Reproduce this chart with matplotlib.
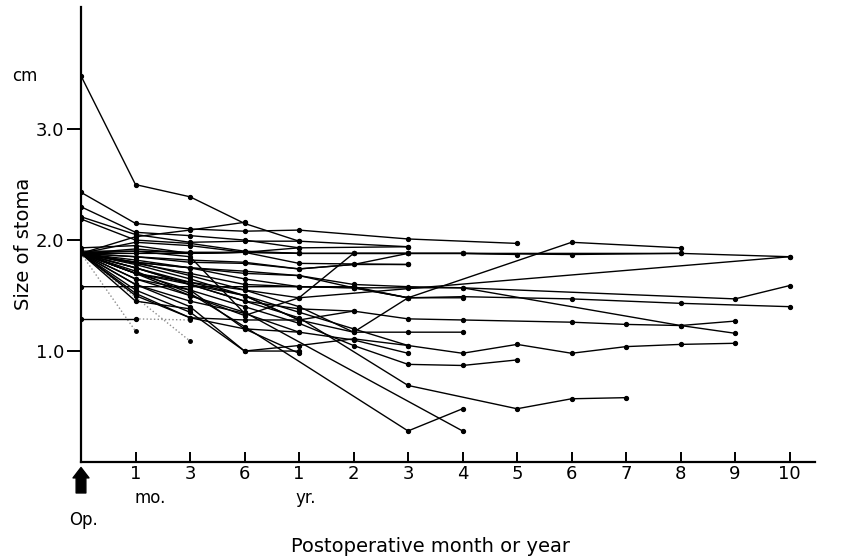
import matplotlib
matplotlib.use('Agg')
import matplotlib.pyplot as plt
import numpy as np

# visit index: 0 = Op., 1-3 = 1/3/6 mo, 4-13 = 1..10 yr
tick_pos = [1, 2, 3, 4, 5, 6, 7, 8, 9, 10, 11, 12, 13]
tick_lab = ['1', '3', '6', '1', '2', '3', '4', '5', '6', '7', '8', '9', '10']

# each patient: (visit indices, stoma size in cm)
patients = [
    ([0, 1, 2, 3, 4], [3.48, 2.50, 2.39, 2.15, 1.99]),
    ([0, 1, 2, 3, 4, 6, 8], [2.43, 2.15, 2.10, 2.08, 2.09, 2.01, 1.97]),
    ([0, 1, 2, 3, 4], [2.30, 2.07, 2.04, 2.00, 1.93]),
    ([0, 1, 2, 3, 4, 6], [2.21, 2.05, 1.98, 1.99, 1.99, 1.94]),
    ([0, 1, 2, 3], [1.88, 2.03, 2.09, 2.16]),
    ([0, 1, 2, 3, 4, 5, 6, 7, 9, 11, 13], [1.88, 1.88, 1.88, 1.89, 1.88, 1.88, 1.88, 1.88, 1.87, 1.88, 1.85]),
    ([0, 1, 2, 3, 4, 5, 6, 7, 8], [1.90, 1.90, 1.89, 1.89, 1.88, 1.88, 1.88, 1.88, 1.87]),
    ([0, 1, 2, 3, 4, 6], [1.88, 1.92, 1.88, 1.89, 1.79, 1.78]),
    ([0, 1, 2, 3, 4, 5, 6], [1.88, 1.85, 1.82, 1.80, 1.74, 1.78, 1.88]),
    ([0, 1, 2, 3, 4, 5, 6, 7, 12, 13], [1.58, 1.58, 1.58, 1.58, 1.58, 1.57, 1.57, 1.57, 1.47, 1.59]),
    ([0, 1], [1.29, 1.29]),
    ([0, 2, 3, 4, 5, 6, 7, 9, 11, 13], [1.88, 1.70, 1.60, 1.58, 1.57, 1.48, 1.49, 1.47, 1.43, 1.40]),
    ([0, 1, 2, 3, 4, 5, 6, 7, 11, 12], [1.88, 1.80, 1.75, 1.70, 1.68, 1.60, 1.58, 1.57, 1.23, 1.16]),
    ([0, 1, 2, 3, 4, 5, 6, 7, 9, 10, 11, 12], [1.88, 1.75, 1.60, 1.45, 1.38, 1.36, 1.29, 1.28, 1.26, 1.24, 1.23, 1.27]),
    ([0, 1, 2, 3, 4, 5, 6, 7, 8, 9, 10, 11, 12], [1.88, 1.75, 1.60, 1.50, 1.35, 1.20, 1.05, 0.98, 1.06, 0.98, 1.04, 1.06, 1.07]),
    ([0, 1, 2, 3, 4, 5, 6, 7, 8], [1.88, 1.70, 1.55, 1.40, 1.25, 1.05, 0.88, 0.87, 0.92]),
    ([0, 1, 2, 3, 4, 6, 8, 9, 10], [1.88, 1.70, 1.60, 1.45, 1.30, 0.69, 0.48, 0.57, 0.58]),
    ([0, 1, 2, 3, 6, 7], [1.88, 1.72, 1.52, 1.22, 0.28, 0.48]),
    ([0, 1, 2, 3, 7], [1.88, 1.65, 1.50, 1.35, 0.28]),
    ([0, 1, 2, 3, 4, 5, 6, 7], [1.88, 1.78, 1.65, 1.50, 1.28, 1.17, 1.17, 1.17]),
    ([0, 1, 2, 3, 4, 5, 6, 9, 11], [1.88, 1.80, 1.68, 1.55, 1.40, 1.17, 1.48, 1.98, 1.93]),
    ([0, 1, 2, 3, 4, 5, 6, 7, 11], [1.88, 1.70, 1.50, 1.32, 1.48, 1.88, 1.88, 1.88, 1.88]),
    ([0, 1, 2, 3, 4, 13], [1.88, 1.75, 1.62, 1.55, 1.48, 1.85]),
    ([0, 1, 2, 3, 4], [1.88, 1.55, 1.35, 1.00, 1.00]),
    ([0, 1, 2, 3, 4, 5, 6], [1.88, 1.60, 1.40, 1.00, 1.05, 1.11, 1.05]),
    ([0, 1, 2, 3, 4], [1.88, 1.65, 1.55, 1.20, 0.98]),
    ([0, 1, 2, 3, 4, 5, 6, 7], [1.88, 1.80, 1.75, 1.65, 1.58, 1.58, 1.48, 1.48]),
    ([0, 1, 2, 3, 4, 5, 6], [1.88, 1.85, 1.80, 1.79, 1.74, 1.78, 1.78]),
    ([0, 1, 2, 3, 4, 5, 6], [1.88, 1.82, 1.75, 1.72, 1.68, 1.57, 1.48]),
    ([0, 1, 2, 3, 4, 5, 6], [1.88, 1.50, 1.30, 1.20, 1.17, 1.10, 0.98]),
    ([0, 1, 2, 3, 4, 5], [1.88, 1.70, 1.62, 1.50, 1.28, 1.36]),
    ([0, 1, 2, 3, 4], [2.19, 2.00, 1.97, 1.90, 1.88]),
    ([0, 1, 2, 3], [1.93, 1.95, 1.88, 1.89]),
    ([0, 1, 2], [1.88, 1.45, 1.38]),
    ([0, 1, 2, 3, 4], [1.88, 1.52, 1.30, 1.28, 1.28]),
    ([0, 1, 2, 3, 4, 6], [1.88, 1.98, 1.95, 1.89, 1.93, 1.94]),
    ([0, 1, 2, 3, 4], [1.88, 1.90, 1.85, 1.34, 1.17]),
    ([0, 1, 2, 3], [1.88, 1.60, 1.45, 1.34]),
]

# faint (dotted) courses ending early
faint = [
    ([0, 1], [1.88, 1.18]),
    ([0, 2], [1.88, 1.09]),
    ([1, 2], [1.29, 1.28]),
]

fig = plt.figure(figsize=(8.42, 5.58), dpi=100)
ax = fig.add_axes([0.0962, 0.172, 0.872, 0.8154])

for xs, ys in faint:
    ax.plot(xs, ys, ':', color='0.55', lw=1.0)
    ax.plot(xs[-1], ys[-1], 'o', color='k', ms=2.5)

for xs, ys in patients:
    ax.plot(xs, ys, '-', color='k', lw=1.0, marker='o', ms=2.8, mec='k', mfc='k')

ax.set_xlim(0, 13.47)
ax.set_ylim(0, 4.1)

for s in ['top', 'right']:
    ax.spines[s].set_visible(False)
ax.spines['left'].set_linewidth(1.6)
ax.spines['bottom'].set_linewidth(1.6)

ax.set_yticks([1.0, 2.0, 3.0])
ax.set_yticklabels(['1.0', '2.0', '3.0'], fontsize=13)
ax.tick_params(axis='y', direction='out', length=10, width=1.4, pad=2)

ax.set_xticks(tick_pos)
ax.set_xticklabels(tick_lab, fontsize=13)
ax.tick_params(axis='x', direction='in', length=7, width=1.4, pad=2)

ax.set_ylabel('Size of stoma', fontsize=14)
ax.yaxis.set_label_coords(-0.066, 0.48)

fig.text(12 / 842, 1 - 76 / 558, 'cm', fontsize=12, va='center', ha='left')
fig.text(150 / 842, 1 - 498 / 558, 'mo.', fontsize=12, va='center', ha='center')
fig.text(306 / 842, 1 - 498 / 558, 'yr.', fontsize=12, va='center', ha='center')
fig.text(84 / 842, 1 - 520 / 558, 'Op.', fontsize=12, va='center', ha='center')
fig.text(430 / 842, 1 - 547 / 558, 'Postoperative month or year', fontsize=14,
         va='center', ha='center')

ax.annotate('', xy=(0, -0.012), xytext=(0, -0.068),
            xycoords=('data', 'axes fraction'), textcoords=('data', 'axes fraction'),
            arrowprops=dict(arrowstyle='simple,head_width=1.15,head_length=0.75,tail_width=0.7',
                            color='k', shrinkA=0, shrinkB=0),
            annotation_clip=False)

fig.savefig('out.png', dpi=100)
